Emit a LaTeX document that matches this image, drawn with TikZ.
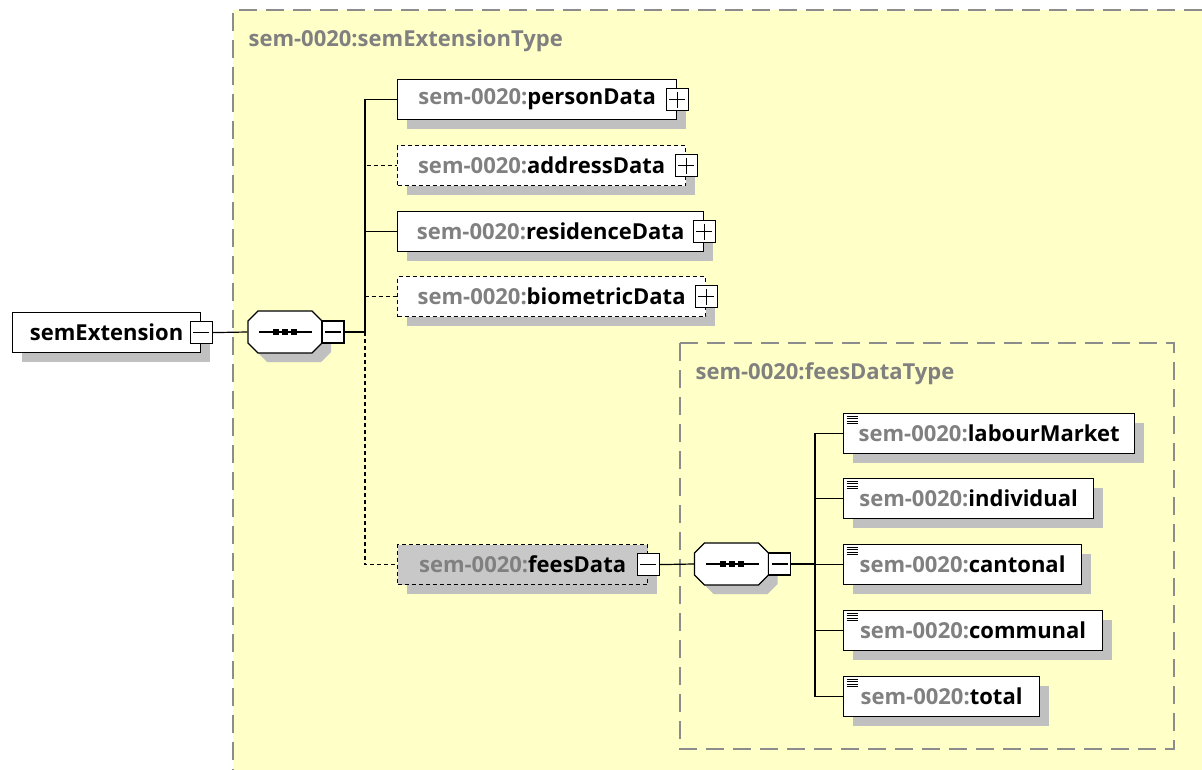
\documentclass[tikz,border=0pt]{standalone}
\usepackage{fontspec}
\setmainfont{Open Sans}
\usetikzlibrary{shadows,positioning}

\definecolor{typebg}{RGB}{255,255,200}
\definecolor{framegray}{RGB}{140,140,140}
\definecolor{nsgray}{RGB}{128,128,128}
\definecolor{shadowgray}{RGB}{192,192,192}
\definecolor{refgray}{RGB}{200,200,200}

\newcommand\ns[1]{\textcolor{nsgray}{sem-0020:}#1}

% sequence compositor: octagon with three dots and its collapse box
\newcommand\seqglyph[3]{%
  \begin{scope}[shift={(#2,#3)}]
    \fill[shadowgray] (-18,-12) -- (36,-12) -- (46,-2) -- (46,20) -- (36,30) -- (-18,30) -- (-28,20) -- (-28,-2) -- cycle;
    \draw[fill=white] (-27,-21) -- (27,-21) -- (37,-11) -- (37,11) -- (27,21) -- (-27,21) -- (-37,11) -- (-37,-11) -- cycle;
    \draw (-26,0) -- (27,0);
    \foreach \dx in {-9,0,9} \fill (\dx-3,-3) rectangle (\dx+3,3);
    \node[minimum width=74pt, minimum height=42pt, inner sep=0pt] (#1) at (0,0) {};
    \node[minusbox] (#1m) at (48,0) {};
  \end{scope}}

\tikzset{
  every path/.style={line width=1.2pt},
  elem/.style={draw=black, fill=white, minimum height=40pt, anchor=north west, inner sep=0pt,
    font=\bfseries\fontsize{22}{22}\selectfont,
    general shadow={fill=shadowgray, shadow xshift=9pt, shadow yshift=-9pt}},
  optional/.style={dash pattern=on 4pt off 3pt},
  optelem/.style={elem, optional},
  leaf/.style={elem, path picture={
    \foreach \dy in {2.5,5,7.5,10}
      \draw[line width=0.9pt] ([xshift=3pt,yshift=-\dy pt]path picture bounding box.north west) -- ++(11pt,0);}},
  pmbox/.style={draw=black, fill=white, minimum size=22pt, inner sep=0pt},
  minusbox/.style={pmbox, path picture={
    \draw ([xshift=3pt]path picture bounding box.west) -- ([xshift=-3pt]path picture bounding box.east);}},
  plusbox/.style={pmbox, path picture={
    \draw ([xshift=3pt]path picture bounding box.west) -- ([xshift=-3pt]path picture bounding box.east);
    \draw ([yshift=-3pt]path picture bounding box.north) -- ([yshift=3pt]path picture bounding box.south);}},
  typeframe/.style={draw=framegray, line width=1.5pt, dash pattern=on 18pt off 9pt},
  typelabel/.style={anchor=west, inner sep=0pt, text=nsgray, font=\bfseries\fontsize{22}{22}\selectfont},
}

\begin{document}
\begin{tikzpicture}[x=1pt, y=-1pt]
  \useasboundingbox (0,0) rectangle (1202,770);

  % complex type frames
  \fill[typebg] (233,10) rectangle (1202,770);
  \draw[typeframe] (1202,10) -- (233,10) -- (233,770);
  \node[typelabel] (extType) at (248,41) {sem-0020:semExtensionType};
  \draw[typeframe] (680,343) rectangle (1174,749);
  \node[typelabel] (feesType) at (695,374) {sem-0020:feesDataType};

  % root element
  \node[elem, minimum width=188pt] (root) at (12,312) {semExtension};
  \node[minusbox] (rootMinus) at (root.east) {};

  % children of semExtensionType
  \node[elem, minimum width=279pt] (person) at (397,79) {\ns{personData}};
  \node[optelem, minimum width=288pt] (address) at (397,145) {\ns{addressData}};
  \node[elem, minimum width=306pt] (residence) at (397,211) {\ns{residenceData}};
  \node[optelem, minimum width=308pt] (biometric) at (397,276) {\ns{biometricData}};
  \node[optelem, fill=refgray, minimum width=250pt] (fees) at (397,544) {\ns{feesData}};
  \foreach \n in {person,address,residence,biometric}
    \node[plusbox] (\n Plus) at (\n.east) {};
  \node[minusbox] (feesMinus) at (fees.east) {};

  % children of feesDataType
  \node[leaf, minimum width=291pt] (labour) at (843,413) {\ns{labourMarket}};
  \node[leaf, minimum width=250pt] (individual) at (843,478) {\ns{individual}};
  \node[leaf, minimum width=238pt] (cantonal) at (843,544) {\ns{cantonal}};
  \node[leaf, minimum width=259pt] (communal) at (843,610) {\ns{communal}};
  \node[leaf, minimum width=196pt] (total) at (843,676) {\ns{total}};

  % sequences
  \seqglyph{seqA}{285}{332}
  \seqglyph{seqB}{731.5}{564}
  \coordinate (busA) at (365,332);
  \coordinate (busB) at (815,564);

  \draw (rootMinus.east) -- (seqA.west);
  \draw (seqAm.east) -- (busA);
  \draw[optional] (busA) |- (address.west);
  \draw[optional] (busA) |- (biometric.west);
  \draw[optional] (busA) |- (fees.west);
  \draw (busA) |- (person.west);
  \draw (busA) |- (residence.west);

  \draw (feesMinus.east) -- (seqB.west);
  \draw (seqBm.east) -- (busB);
  \foreach \n in {labour,individual,cantonal,communal,total}
    \draw (busB) |- (\n.west);
\end{tikzpicture}
\end{document}
